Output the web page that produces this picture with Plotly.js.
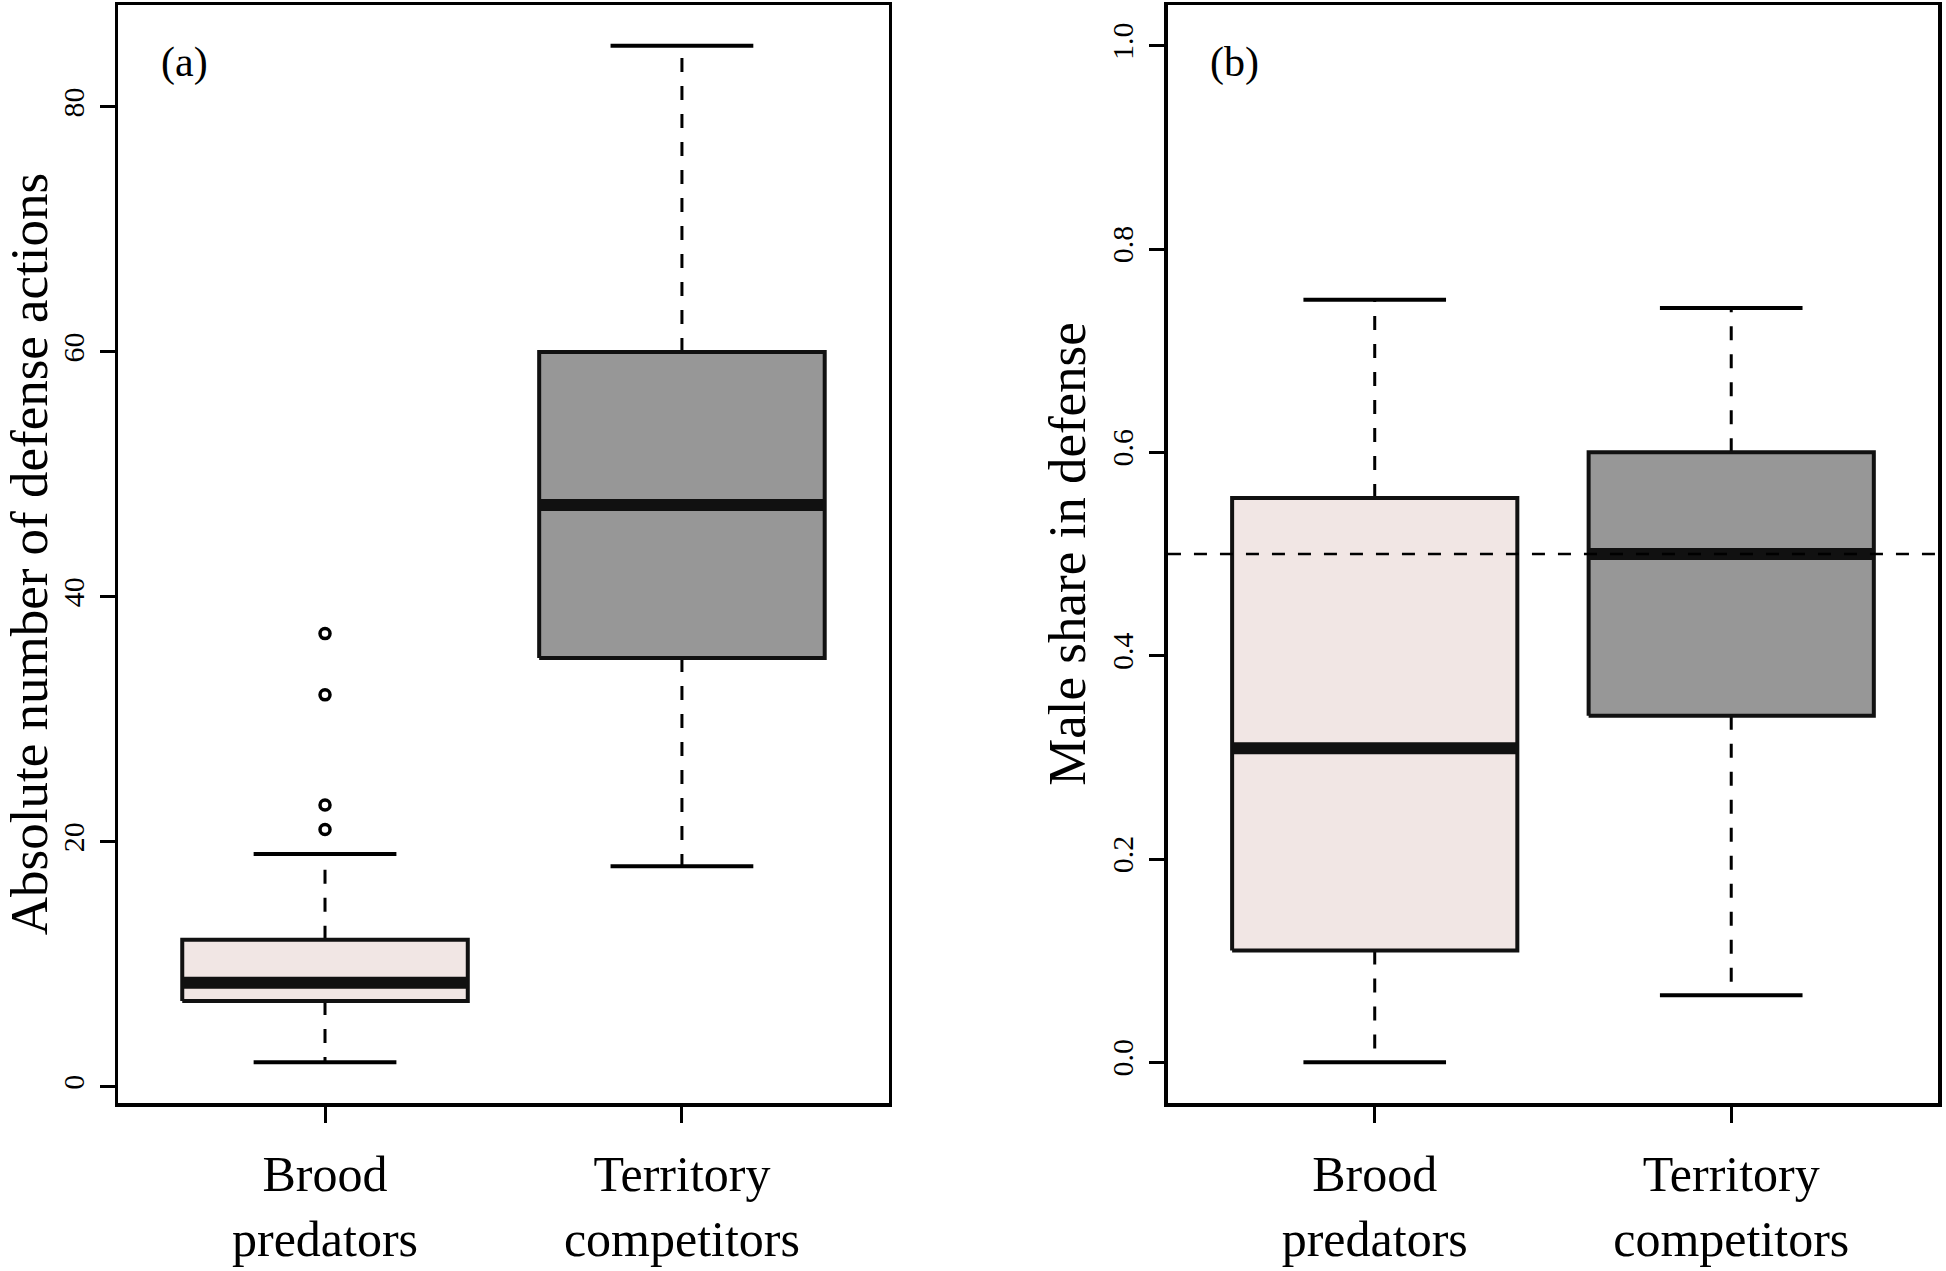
<!DOCTYPE html>
<html><head><meta charset="utf-8">
<script src="https://cdn.plot.ly/plotly-3.0.1.min.js"></script>
<style>html,body{margin:0;padding:0;background:#fff}</style>
</head><body><div id="chart" style="width:1946px;height:1271px"></div>
<script>
// ---------- data ----------
const categories = ["Brood<br>predators", "Territory<br>competitors"];
const catPos = [1, 2];

// panel (a): absolute number of defense actions
const aLower  = [2, 18];
const aQ1     = [7, 35];
const aMedian = [8.5, 47.5];
const aQ3     = [12, 60];
const aUpper  = [19, 85];
const aOutliers = [[21, 23, 32, 37], []];

// panel (b): male share in defense
const bLower  = [0.0, 0.066];
const bQ1     = [0.11, 0.341];
const bMedian = [0.309, 0.5];
const bQ3     = [0.555, 0.6];
const bUpper  = [0.75, 0.742];
const bOutliers = [[], []];
const bReference = 0.5;

const yTicksA = [0, 20, 40, 60, 80];
const yTicksB = [0, 0.2, 0.4, 0.6, 0.8, 1.0];
const yTickTextB = ["0.0", "0.2", "0.4", "0.6", "0.8", "1.0"];
const yTitleA = "Absolute number of defense actions";
const yTitleB = "Male share in defense";
const panelLabels = ["(a)", "(b)"];
const fills = ["#F1E6E4", "#979797"];

// ---------- build ----------
const BOXHALF = 0.4, STAPLEHALF = 0.2;
function panelTraces(xa, ya, lo, q1, med, q3, hi, outl) {
  const t = [];
  const common = {type: 'scatter', mode: 'lines', xaxis: xa, yaxis: ya, hoverinfo: 'skip', showlegend: false};
  const wx = [], wy = [];
  catPos.forEach((c, i) => { wx.push(c, c, null, c, c, null); wy.push(q3[i], hi[i], null, q1[i], lo[i], null); });
  t.push(Object.assign({}, common, {x: wx, y: wy, line: {color: '#000', width: 3, dash: '14px,14px'}}));
  const sx = [], sy = [];
  catPos.forEach((c, i) => { sx.push(c - STAPLEHALF, c + STAPLEHALF, null, c - STAPLEHALF, c + STAPLEHALF, null); sy.push(hi[i], hi[i], null, lo[i], lo[i], null); });
  t.push(Object.assign({}, common, {x: sx, y: sy, line: {color: '#000', width: 4}}));
  catPos.forEach((c, i) => {
    t.push(Object.assign({}, common, {
      x: [c - BOXHALF, c + BOXHALF, c + BOXHALF, c - BOXHALF, c - BOXHALF],
      y: [q1[i], q1[i], q3[i], q3[i], q1[i]],
      fill: 'toself', fillcolor: fills[i], line: {color: '#111', width: 4}
    }));
  });
  const mx = [], my = [];
  catPos.forEach((c, i) => { mx.push(c - BOXHALF, c + BOXHALF, null); my.push(med[i], med[i], null); });
  t.push(Object.assign({}, common, {x: mx, y: my, line: {color: '#111', width: 12}}));
  const ox = [], oy = [];
  catPos.forEach((c, i) => outl[i].forEach(v => { ox.push(c); oy.push(v); }));
  t.push({type: 'scatter', mode: 'markers', xaxis: xa, yaxis: ya, x: ox, y: oy, hoverinfo: 'skip', showlegend: false,
          marker: {symbol: 'circle-open', size: 10, color: '#000', line: {width: 3.5, color: '#000'}}});
  return t;
}

const data = [].concat(
  panelTraces('x', 'y', aLower, aQ1, aMedian, aQ3, aUpper, aOutliers),
  panelTraces('x2', 'y2', bLower, bQ1, bMedian, bQ3, bUpper, bOutliers)
);

const FONT = 'Liberation Serif, Times New Roman, serif';
function xAxis(domain, anchor) {
  return {domain: domain, anchor: anchor, range: [0.42, 2.58], tickvals: catPos, ticktext: categories,
          tickfont: {size: 50, family: FONT, color: '#000'}, ticklabelstandoff: 8,
          ticks: 'outside', ticklen: 16, tickwidth: 3, tickcolor: '#000',
          showline: true, linewidth: 3.5, linecolor: '#000', mirror: true, showgrid: false, zeroline: false, fixedrange: true};
}
function yAxis(anchor, range, vals, text, title) {
  const ax = {anchor: anchor, domain: [0, 1], range: range, tickvals: vals, ticks: 'outside', ticklen: 15, tickwidth: 3,
          tickcolor: '#000', tickangle: -90, tickfont: {size: 30, family: FONT, color: '#000'}, ticklabelstandoff: 4,
          showline: true, linewidth: 3.5, linecolor: '#000', mirror: true, showgrid: false, zeroline: false,
          title: {text: title, font: {size: 53, family: FONT, color: '#000'}, standoff: 5}};
  if (text) ax.ticktext = text;
  return ax;
}

const annotations = [];
[['x', 'y'], ['x2', 'y2']].forEach((p, k) => {
  annotations.push({xref: p[0] + ' domain', x: 0.086, yref: p[1] + ' domain', y: 0.948, text: panelLabels[k],
                    showarrow: false, font: {size: 42, family: FONT, color: '#000'}, xanchor: 'center', yanchor: 'middle'});
});

const layout = {
  width: 1946, height: 1271, autosize: false,
  margin: {l: 118, r: 8, t: 5, b: 168},
  paper_bgcolor: '#fff', plot_bgcolor: '#fff', showlegend: false,
  font: {family: FONT, color: '#000'},
  xaxis: xAxis([0, 0.4236], 'y'),
  yaxis: yAxis('x', [-1.32, 88.32], yTicksA, null, yTitleA),
  xaxis2: xAxis([0.5769, 1], 'y2'),
  yaxis2: yAxis('x2', [-0.04, 1.04], yTicksB, yTickTextB, yTitleB),
  shapes: [{type: 'line', xref: 'x2 domain', x0: 0, x1: 1, yref: 'y2', y0: bReference, y1: bReference,
            line: {color: '#000', width: 2.5, dash: '13px,13px'}, layer: 'above'}],
  annotations: annotations
};

Plotly.newPlot('chart', data, layout, {displayModeBar: false, staticPlot: true});
</script></body></html>
